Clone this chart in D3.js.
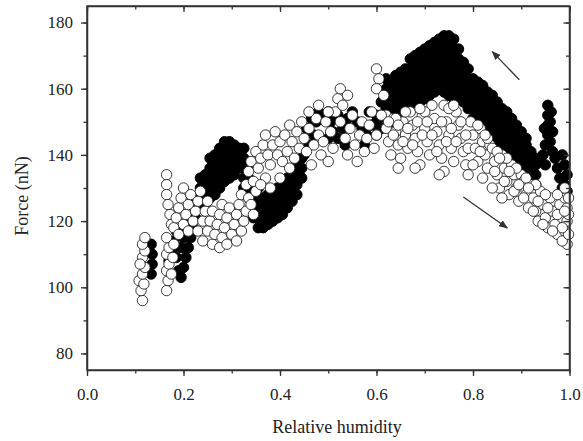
<!DOCTYPE html>
<html><head><meta charset="utf-8">
<script src="https://cdn.jsdelivr.net/npm/d3@7"></script>
<style>body{margin:0;background:#fff}svg{display:block}
text{font-family:"Liberation Serif","Times New Roman",Times,"DejaVu Serif",serif}</style>
</head><body>
<script>
const xTicks = [0.0, 0.2, 0.4, 0.6, 0.8, 1.0];
const yTicks = [80, 100, 120, 140, 160, 180];
const xTitle = "Relative humidity";
const yTitle = "Force (nN)";

// filled circles (humidity, force)
const filledSeries = [
[0.133,104],[0.135,107],[0.135,110],[0.133,113],
[0.17,108],[0.175,111],[0.18,114],[0.185,117],[0.185,109],[0.19,105],[0.195,103],[0.2,106],[0.195,112],[0.2,115],[0.205,118],[0.21,120],[0.205,109],[0.21,112],[0.215,115],[0.22,118],
[0.225,121],[0.225,124],[0.225,127],
[0.235,124],[0.235,127],[0.235,130],[0.235,133],
[0.245,125],[0.245,128],[0.245,131],[0.245,134],
[0.255,127],[0.255,130],[0.255,133],[0.255,136],[0.255,139],
[0.265,128],[0.265,131],[0.265,134],[0.265,137],[0.265,140],
[0.275,130],[0.275,133],[0.275,136],[0.275,139],[0.275,142],
[0.285,132],[0.285,135],[0.285,138],[0.285,141],[0.285,144],
[0.295,133],[0.295,136],[0.295,139],[0.295,142],[0.295,144],
[0.305,134],[0.305,137],[0.305,140],[0.305,143],
[0.315,136],[0.315,139],[0.315,142],
[0.325,130],[0.325,133],[0.325,136],[0.325,139],[0.325,142],
[0.335,127],[0.335,130],[0.335,133],[0.335,136],
[0.345,121],[0.345,124],[0.345,127],[0.345,130],
[0.355,118],[0.355,121],[0.355,124],[0.355,127],[0.355,130],
[0.365,118],[0.365,121],[0.365,124],[0.365,127],
[0.375,119],[0.375,122],[0.375,125],[0.375,128],
[0.385,120],[0.385,123],[0.385,126],[0.385,129],
[0.395,121],[0.395,124],[0.395,127],[0.395,130],
[0.405,122],[0.405,125],[0.405,128],[0.405,131],
[0.415,124],[0.415,127],[0.415,130],[0.415,133],
[0.425,126],[0.425,129],[0.425,132],[0.425,135],
[0.435,128],[0.435,131],[0.435,134],[0.435,137],
[0.445,133],[0.445,136],[0.445,139],
[0.45,140],[0.46,143],[0.47,146],[0.475,150],[0.48,153],[0.49,151],[0.5,153],[0.505,150],[0.51,147],[0.52,145],[0.53,148],[0.54,151],[0.55,153],[0.56,150],[0.57,148],[0.58,146],[0.59,149],[0.6,152],[0.455,148],[0.465,151],[0.52,152],[0.5,145],[0.535,143],[0.575,143],[0.585,153],
[0.6,146],[0.6,150],[0.61,148],[0.61,152],[0.61,156],
[0.62,151],[0.62,154],[0.62,157],[0.62,160],[0.62,163],
[0.63,150],[0.63,153],[0.63,156],[0.63,159],[0.63,162],
[0.64,152],[0.64,155],[0.64,158],[0.64,161],[0.64,164],
[0.65,153],[0.65,156],[0.65,159],[0.65,162],[0.65,165],
[0.66,154],[0.66,157],[0.66,160],[0.66,163],[0.66,166],
[0.67,154],[0.67,157],[0.67,160],[0.67,163],[0.67,166],[0.67,169],
[0.68,155],[0.68,158],[0.68,161],[0.68,164],[0.68,167],[0.68,170],
[0.69,156],[0.69,159],[0.69,162],[0.69,165],[0.69,168],[0.69,171],
[0.7,157],[0.7,160],[0.7,163],[0.7,166],[0.7,169],[0.7,172],
[0.71,158],[0.71,161],[0.71,164],[0.71,167],[0.71,170],[0.71,173],
[0.72,159],[0.72,162],[0.72,165],[0.72,168],[0.72,171],[0.72,174],
[0.73,160],[0.73,163],[0.73,166],[0.73,169],[0.73,172],[0.73,175],
[0.74,159],[0.74,162],[0.74,165],[0.74,168],[0.74,171],[0.74,174],[0.74,176],
[0.75,158],[0.75,161],[0.75,164],[0.75,167],[0.75,170],[0.75,173],[0.75,176],
[0.76,157],[0.76,160],[0.76,163],[0.76,166],[0.76,169],[0.76,172],[0.76,175],
[0.77,157],[0.77,160],[0.77,163],[0.77,166],[0.77,169],[0.77,172],
[0.78,156],[0.78,159],[0.78,162],[0.78,165],[0.78,168],
[0.79,154],[0.79,157],[0.79,160],[0.79,163],[0.79,166],
[0.8,151],[0.8,154],[0.8,157],[0.8,160],[0.8,163],
[0.81,150],[0.81,153],[0.81,156],[0.81,159],[0.81,162],
[0.82,149],[0.82,152],[0.82,155],[0.82,158],[0.82,161],
[0.83,147],[0.83,150],[0.83,153],[0.83,156],[0.83,159],
[0.84,146],[0.84,149],[0.84,152],[0.84,155],[0.84,158],
[0.85,144],[0.85,147],[0.85,150],[0.85,153],[0.85,156],
[0.86,142],[0.86,145],[0.86,148],[0.86,151],[0.86,154],
[0.87,141],[0.87,144],[0.87,147],[0.87,150],[0.87,153],
[0.88,139],[0.88,142],[0.88,145],[0.88,148],[0.88,151],
[0.89,138],[0.89,141],[0.89,144],[0.89,147],[0.89,149],
[0.9,136],[0.9,139],[0.9,142],[0.9,145],[0.9,147],
[0.91,134],[0.91,137],[0.91,140],[0.91,143],[0.91,145],
[0.92,132],[0.92,135],[0.92,138],[0.92,141],
[0.93,131],[0.93,134],[0.93,137],[0.93,139],
[0.945,140],[0.95,143],[0.955,146],[0.955,149],[0.955,152],[0.955,155],[0.96,150],[0.96,144],[0.965,141],[0.965,147],[0.97,139],[0.95,137],[0.94,138],[0.948,148],[0.962,153],
[0.975,136],[0.98,133],[0.985,130],[0.99,137],[0.995,134],[0.995,129],[0.985,140],[0.99,131]
];

// open circles (humidity, force)
const openSeries = [
[0.115,96],[0.112,99],[0.108,102],[0.118,101],[0.115,104],[0.12,106],[0.115,109],[0.12,111],[0.115,113],[0.12,115],[0.11,107],
[0.165,99],[0.168,102],[0.165,105],[0.17,107],[0.165,110],[0.17,112],[0.165,115],[0.175,104],[0.178,109],[0.18,113],
[0.165,134],[0.165,131],[0.165,128],[0.168,125],[0.172,122],[0.175,119],
[0.18,118],[0.185,121],[0.19,124],[0.195,127],[0.2,130],[0.19,116],[0.2,119],[0.205,122],[0.21,125],[0.215,128],[0.21,117],[0.22,120],[0.225,123],[0.23,126],[0.235,129],[0.23,117],[0.24,120],[0.245,123],[0.25,126],[0.24,114],[0.25,117],[0.255,120],[0.26,123],[0.26,113],[0.265,116],[0.27,119],[0.275,122],[0.28,125],[0.275,112],[0.28,115],[0.285,118],[0.29,121],[0.295,124],[0.29,113],[0.3,116],[0.305,119],[0.31,122],[0.315,125],[0.31,114],[0.32,117],[0.325,120],[0.33,123],[0.32,128],[0.33,131],[0.335,127],
[0.335,135],[0.34,138],[0.345,132],[0.35,141],[0.355,136],[0.36,139],[0.365,143],[0.37,133],[0.37,146],[0.375,140],[0.38,137],[0.385,143],[0.39,147],[0.395,140],[0.4,144],[0.405,138],[0.41,146],[0.415,141],[0.42,149],[0.425,144],[0.43,139],[0.435,147],[0.44,142],[0.445,150],[0.45,145],[0.34,125],[0.35,129],[0.36,131],[0.38,130],[0.4,133],[0.42,136],[0.345,122],
[0.455,141],[0.46,148],[0.465,137],[0.47,143],[0.475,151],[0.48,146],[0.485,140],[0.49,144],[0.495,150],[0.5,138],[0.505,147],[0.51,142],[0.515,153],[0.52,157],[0.525,160],[0.525,150],[0.53,155],[0.535,145],[0.54,140],[0.545,148],[0.55,152],[0.555,143],[0.56,138],[0.565,146],[0.57,150],[0.575,141],[0.58,145],[0.585,149],[0.59,153],[0.595,142],[0.6,146],[0.48,155],[0.5,153],[0.46,153],[0.54,158],
[0.6,166],[0.605,163],[0.6,160],[0.615,158],[0.62,152],[0.61,152],[0.62,148],[0.625,144],[0.63,140],[0.635,151],[0.64,147],[0.645,143],[0.65,139],[0.655,150],[0.66,146],[0.665,142],[0.67,153],[0.675,149],[0.68,145],[0.685,141],[0.69,137],[0.695,152],[0.7,148],[0.705,144],[0.71,140],[0.715,155],[0.72,151],[0.725,147],[0.73,143],[0.735,139],[0.74,135],[0.745,150],[0.75,146],[0.755,142],[0.76,138],[0.765,153],[0.77,149],[0.775,145],[0.78,141],[0.785,137],[0.79,134],[0.795,150],[0.8,146],[0.64,151],[0.66,153],[0.7,153],[0.74,155],[0.69,154],[0.75,154],[0.76,155],[0.73,134],[0.68,136],[0.645,136],
[0.625,150],[0.635,146],[0.645,149],[0.655,144],[0.665,148],[0.675,143],[0.685,150],[0.695,146],[0.705,150],[0.715,146],[0.725,141],[0.735,150],[0.745,144],[0.755,148],[0.765,144],[0.775,150],[0.785,146],[0.79,142],
[0.805,142],[0.81,138],[0.815,148],[0.82,144],[0.825,140],[0.83,136],[0.835,143],[0.84,142],[0.845,138],[0.85,134],[0.855,130],[0.86,140],[0.865,136],[0.87,132],[0.875,128],[0.88,137],[0.885,134],[0.89,130],[0.895,126],[0.9,134],[0.905,132],[0.91,128],[0.915,124],[0.92,131],[0.925,127],[0.93,123],[0.935,120],[0.94,129],[0.945,125],[0.95,121],[0.955,118],[0.96,127],[0.965,123],[0.97,119],[0.975,116],[0.98,125],[0.985,121],[0.99,117],[0.995,113],[0.995,120],[0.995,124],[0.99,127],[0.985,114],[0.975,128],[0.95,128],[0.93,131],[0.91,133],[0.89,136],[0.87,139],[0.85,141],[0.83,145],[0.81,149],[0.8,137],[0.82,133],[0.84,130],[0.86,127],[0.99,130],[0.998,116],[0.998,122],[0.998,127],
[0.815,141],[0.825,146],[0.845,135],[0.855,139],[0.865,132],[0.875,135],[0.885,129],[0.895,131],[0.905,127],[0.915,130],[0.925,123],[0.935,126],[0.945,119],[0.955,124],[0.965,117],[0.975,122],[0.985,118],[0.99,123]
];

// arrows: [from, to] in data units
const arrowUp = [[0.896,162.7],[0.840,171.2]];
const arrowDown = [[0.78,127.3],[0.871,117.9]];

const W = 583, H = 441;
const m = {left: 87, right: 569.5, top: 6, bottom: 370};
const svg = d3.select("body").append("svg").attr("width", W).attr("height", H);
const x = d3.scaleLinear().domain([0, 1]).range([m.left, m.right]);
const y = d3.scaleLinear().domain([75, 185]).range([m.bottom, m.top]);
const axisColor = "#333";
const font = "Liberation Serif, Times New Roman, Times, DejaVu Serif, serif";

const defs = svg.append("defs");
defs.append("marker").attr("id","ah").attr("viewBox","0 0 10 10").attr("refX",9).attr("refY",5)
  .attr("markerWidth",7).attr("markerHeight",7).attr("orient","auto")
  .append("path").attr("d","M0,1 L10,5 L0,9 z").attr("fill","#333");

// points
const gp = svg.append("g");
gp.selectAll("circle.f").data(filledSeries).join("circle").attr("class","f")
  .attr("cx", d => x(d[0])).attr("cy", d => y(d[1])).attr("r", 5.2)
  .attr("fill", "#000").attr("stroke", "#000").attr("stroke-width", 1);
gp.selectAll("circle.o").data(openSeries).join("circle").attr("class","o")
  .attr("cx", d => x(d[0])).attr("cy", d => y(d[1])).attr("r", 5.2)
  .attr("fill", "#fff").attr("stroke", "#222").attr("stroke-width", 0.9);

// arrows
[arrowUp, arrowDown].forEach(a => {
  svg.append("line").attr("x1", x(a[0][0])).attr("y1", y(a[0][1]))
    .attr("x2", x(a[1][0])).attr("y2", y(a[1][1]))
    .attr("stroke", "#333").attr("stroke-width", 1.3).attr("marker-end", "url(#ah)");
});

const minorX = d3.range(0, 1.0001, 0.1);
const minorY = d3.range(80, 185, 10);

function styleAxis(g){
  g.attr("font-family", font);
  g.select(".domain").attr("stroke", axisColor).attr("stroke-width", 1.5);
  g.selectAll(".tick line").attr("stroke", axisColor).attr("stroke-width", 1.3);
  g.selectAll("text").attr("font-family", font).attr("font-size", 17).attr("fill", "#222");
}
function minor(g){ g.select(".domain").remove(); g.selectAll("line").attr("stroke", axisColor).attr("stroke-width",1.3); }

// bottom
const gb = svg.append("g").attr("transform", `translate(0,${m.bottom})`)
  .call(d3.axisBottom(x).tickValues(xTicks).tickFormat(d3.format(".1f")).tickSize(6).tickPadding(12).tickSizeOuter(0));
styleAxis(gb);
svg.append("g").attr("transform", `translate(0,${m.bottom})`)
  .call(d3.axisBottom(x).tickValues(minorX).tickFormat("").tickSize(3.5).tickSizeOuter(0)).call(minor);
// top
const gt = svg.append("g").attr("transform", `translate(0,${m.top})`)
  .call(d3.axisBottom(x).tickValues(xTicks).tickFormat("").tickSize(6).tickSizeOuter(0));
styleAxis(gt);
svg.append("g").attr("transform", `translate(0,${m.top})`)
  .call(d3.axisBottom(x).tickValues(minorX).tickFormat("").tickSize(3.5).tickSizeOuter(0)).call(minor);
// left
const gl = svg.append("g").attr("transform", `translate(${m.left},0)`)
  .call(d3.axisLeft(y).tickValues(yTicks).tickSize(6).tickPadding(8).tickSizeOuter(0));
styleAxis(gl);
svg.append("g").attr("transform", `translate(${m.left},0)`)
  .call(d3.axisLeft(y).tickValues(minorY).tickFormat("").tickSize(3.5).tickSizeOuter(0)).call(minor);
// right
const gr = svg.append("g").attr("transform", `translate(${m.right},0)`)
  .call(d3.axisLeft(y).tickValues(yTicks).tickFormat("").tickSize(6).tickSizeOuter(0));
styleAxis(gr);
svg.append("g").attr("transform", `translate(${m.right},0)`)
  .call(d3.axisLeft(y).tickValues(minorY).tickFormat("").tickSize(3.5).tickSizeOuter(0)).call(minor);

// frame
svg.append("rect").attr("x", m.left).attr("y", m.top).attr("width", m.right - m.left).attr("height", m.bottom - m.top)
  .attr("fill", "none").attr("stroke", axisColor).attr("stroke-width", 1.5);

// titles
svg.append("text").attr("x", 337).attr("y", 433).attr("text-anchor", "middle")
  .attr("font-family", font).attr("font-size", 18).attr("fill", "#222").text(xTitle);
svg.append("text").attr("transform", "translate(28,196) rotate(-90)").attr("text-anchor", "middle")
  .attr("font-family", font).attr("font-size", 18).attr("fill", "#222").text(yTitle);
</script>
</body></html>
